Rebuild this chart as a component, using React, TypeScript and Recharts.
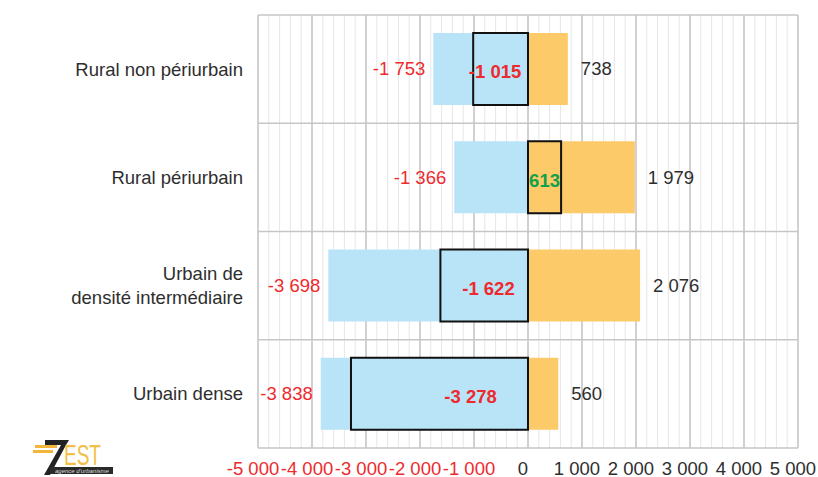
import React from "react";
import {
  BarChart,
  Bar,
  XAxis,
  YAxis,
  CartesianGrid,
  LabelList,
} from "recharts";

const categories = [
  "Rural non périurbain",
  "Rural périurbain",
  "Urbain de densité intermédiaire",
  "Urbain dense",
];
const departures = [-1753, -1366, -3698, -3838];
const arrivals = [738, 1979, 2076, 560];
const netBalance = [-1015, 613, -1622, -3278];
const majorTicks = [-5000, -4000, -3000, -2000, -1000, 0, 1000, 2000, 3000, 4000, 5000];

// minor grid every 200
const minorTicks: number[] = [];
for (let v = -5000; v <= 5000; v += 200) minorTicks.push(v);

const categoryLines: Record<string, string[]> = {
  "Urbain de densité intermédiaire": ["Urbain de", "densité intermédiaire"],
};

const data = categories.map((c, i) => ({
  name: c,
  dep: departures[i],
  arr: arrivals[i],
  net: netBalance[i],
}));

const FONT = "'Liberation Sans', Arial, sans-serif";
const FS = 18.5;
const RED = "#ee2a2e";
const GREEN = "#12a14b";
const TEXT = "#2e2e2e";
const BLUE = "#b9e3f7";
const ORANGE = "#fdca69";

function fmt(v: number) {
  const s = Math.abs(Math.round(v))
    .toString()
    .replace(/\B(?=(\d{3})+(?!\d))/g, " ");
  return (v < 0 ? "-" : "") + s;
}

const CategoryTick = (props: any) => {
  const { x, y, payload } = props;
  const lines = categoryLines[payload.value] || [payload.value];
  const lh = 24;
  const start = -((lines.length - 1) * lh) / 2;
  return (
    <g>
      {lines.map((l, i) => (
        <text
          key={i}
          x={x}
          y={y + start + i * lh}
          dy="0.35em"
          textAnchor="end"
          fontSize={FS}
          fontFamily={FONT}
          fill={TEXT}
        >
          {l}
        </text>
      ))}
    </g>
  );
};

const ValueTick = (props: any) => {
  const { x, y, payload } = props;
  const v = payload.value as number;
  return (
    <text
      x={x - 5}
      y={y}
      dy="0.71em"
      textAnchor="middle"
      fontSize={FS}
      fontFamily={FONT}
      fill={v < 0 ? RED : TEXT}
    >
      {fmt(v)}
    </text>
  );
};

const sideLabel = (color: string, side: "left" | "right", gap: number) =>
  function SideLabel(props: any) {
    const { x, y, width, height, value } = props;
    const left = Math.min(x, x + width);
    const right = Math.max(x, x + width);
    return (
      <text
        x={side === "left" ? left - gap : right + gap}
        y={y + height / 2}
        dy="0.35em"
        textAnchor={side === "left" ? "end" : "start"}
        fontSize={FS}
        fontFamily={FONT}
        fill={color}
      >
        {fmt(value)}
      </text>
    );
  };

const NetLabel = (props: any) => {
  const { x, y, width, height, value } = props;
  const left = Math.min(x, x + width);
  const right = Math.max(x, x + width);
  const w = Math.abs(width);
  const cx = value < 0 ? right - (w * 0.2 + 22) : left + w / 2;
  return (
    <text
      x={cx}
      y={y + height / 2 + 3}
      dy="0.35em"
      textAnchor="middle"
      fontSize={FS}
      fontWeight="bold"
      fontFamily={FONT}
      fill={value < 0 ? RED : GREEN}
    >
      {fmt(value)}
    </text>
  );
};

const verticalFrom = (ticks: number[]) => (p: any) => {
  const sc = p?.xAxis?.scale;
  if (sc && typeof sc === "function") return ticks.map((t) => sc(t));
  const o = p.offset;
  return ticks.map((t) => o.left + ((t + 5000) / 10000) * o.width);
};

const rowBoundaries = (p: any) => {
  const o = p.offset;
  const n = categories.length;
  const out: number[] = [];
  for (let i = 0; i <= n; i++) out.push(o.top + (o.height * i) / n);
  return out;
};

const Logo = () => (
  <svg
    width={90}
    height={41}
    style={{ position: "absolute", left: 30, top: 436 }}
  >
    <rect x={5} y={9} width={22} height={3} fill="#f3b53a" />
    <rect x={3} y={14} width={20} height={3} fill="#f3b53a" />
    <polygon points="15,4 39,4 36,9 20,39 14,39 31,9 15,9" fill="#222" />
    <text
      x={34}
      y={29}
      fontSize={30}
      fontFamily={FONT}
      fill="#f2bf48"
      textLength={37}
      lengthAdjust="spacingAndGlyphs"
    >
      EST
    </text>
    <rect x={20} y={31} width={63} height={7} fill="#2a2a2a" />
    <text
      x={25}
      y={37}
      fontSize={6}
      fontFamily={FONT}
      fill="#ddd"
      fontStyle="italic"
    >
      agence d'urbanisme
    </text>
  </svg>
);

export default function App() {
  return (
    <div
      style={{
        position: "absolute",
        left: 0,
        top: 0,
        width: 818,
        height: 477,
        background: "#fff",
      }}
    >
      <BarChart
        width={818}
        height={477}
        data={data}
        layout="vertical"
        barSize={72}
        barGap={-72}
        barCategoryGap={0}
        margin={{ top: 15, right: 20, bottom: 0, left: 0 }}
      >
        <CartesianGrid
          horizontal={false}
          stroke="#e6e6e6"
          strokeWidth={1}
          verticalCoordinatesGenerator={verticalFrom(minorTicks)}
        />
        <CartesianGrid
          stroke="#c6c6c6"
          strokeWidth={1.5}
          verticalCoordinatesGenerator={verticalFrom(majorTicks)}
          horizontalCoordinatesGenerator={rowBoundaries}
        />
        <XAxis
          type="number"
          domain={[-5000, 5000]}
          ticks={majorTicks}
          interval={0}
          axisLine={false}
          tickLine={false}
          tickSize={6}
          tickMargin={8}
          height={29}
          tick={<ValueTick />}
        />
        <YAxis
          type="category"
          dataKey="name"
          width={258}
          axisLine={false}
          tickLine={false}
          tickMargin={9}
          tick={<CategoryTick />}
        />
        <Bar dataKey="dep" fill={BLUE} isAnimationActive={false}>
          <LabelList dataKey="dep" content={sideLabel(RED, "left", 8)} />
        </Bar>
        <Bar dataKey="arr" fill={ORANGE} isAnimationActive={false}>
          <LabelList dataKey="arr" content={sideLabel(TEXT, "right", 13)} />
        </Bar>
        <Bar
          dataKey="net"
          fill="none"
          stroke="#111"
          strokeWidth={2}
          isAnimationActive={false}
        >
          <LabelList dataKey="net" content={<NetLabel />} />
        </Bar>
      </BarChart>
      <Logo />
    </div>
  );
}
